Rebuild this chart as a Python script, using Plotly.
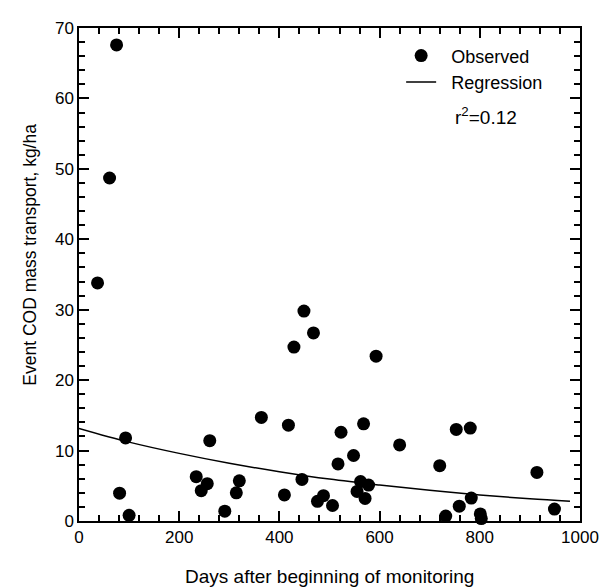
import plotly.graph_objects as go

# Observed event data (days after beginning of monitoring, COD mass transport kg/ha)
days = [37, 61, 75, 81, 93, 100, 234, 244, 256, 261, 291, 314, 320, 364, 410, 418,
        429, 445, 449, 468, 476, 488, 506, 517, 523, 548, 555, 562, 568, 571, 578,
        593, 640, 720, 732, 753, 759, 781, 783, 801, 803, 914, 949]
cod = [33.8, 48.7, 67.6, 3.95, 11.8, 0.8, 6.3, 4.3, 5.3, 11.4, 1.4, 4.0, 5.7, 14.7,
       3.7, 13.6, 24.7, 5.9, 29.8, 26.7, 2.8, 3.6, 2.2, 8.1, 12.6, 9.3, 4.2, 5.6,
       13.8, 3.2, 5.1, 23.4, 10.8, 7.85, 0.7, 13.0, 2.1, 13.2, 3.25, 1.0, 0.35, 6.9, 1.7]

# Regression curve, values
reg_days = [0, 100, 200, 300, 400, 500, 600, 700, 800, 900, 980]
reg_cod = [13.15, 11.2, 9.6, 8.2, 7.0, 5.95, 5.1, 4.35, 3.7, 3.15, 2.8]

x_ticks = [0, 200, 400, 600, 800, 1000]
y_ticks = [0, 10, 20, 30, 40, 50, 60, 70]

FONT = "Liberation Sans, Arial, Helvetica, sans-serif"
NB = "\u00a0\u00a0"

fig = go.Figure()
fig.add_trace(go.Scatter(
    x=days, y=cod, mode="markers", name=NB + "Observed",
    marker=dict(color="black", size=13, line=dict(width=0)),
    cliponaxis=False,
))
fig.add_trace(go.Scatter(
    x=reg_days, y=reg_cod, mode="lines", name=NB + "Regression",
    line=dict(color="black", width=1.5, shape="spline"),
))

axis_common = dict(
    showgrid=False, zeroline=False, showline=True, linecolor="black", linewidth=1.5,
    mirror="ticks", ticks="inside", ticklen=10, tickwidth=1.5, tickcolor="black",
    tickfont=dict(family=FONT, size=17, color="black"),
)

fig.update_xaxes(
    range=[0, 1000], tickvals=x_ticks, ticktext=[str(v) for v in x_ticks],
    minor=dict(dtick=40, ticks="inside", ticklen=6, tickwidth=1.5, tickcolor="black"),
    **axis_common,
)
fig.update_yaxes(
    range=[0, 70], tickvals=y_ticks, ticktext=[str(v) for v in y_ticks],
    minor=dict(dtick=2, ticks="inside", ticklen=6, tickwidth=1.5, tickcolor="black"),
    **axis_common,
)

fig.update_layout(
    width=604, height=580,
    margin=dict(l=71, r=32, t=11, b=67),
    paper_bgcolor="white", plot_bgcolor="white",
    font=dict(family=FONT, size=17, color="black"),
    showlegend=True,
    legend=dict(x=0.643, y=0.981, xanchor="left", yanchor="top",
                bgcolor="rgba(0,0,0,0)", borderwidth=0,
                font=dict(family=FONT, size=18, color="black"),
                tracegroupgap=0),
    annotations=[
        dict(text="Days after beginning of monitoring", xref="paper", yref="paper",
             x=0.5, y=-0.1116, xanchor="center", yanchor="middle", showarrow=False,
             font=dict(family=FONT, size=19, color="black")),
        dict(text="Event COD mass transport, kg/ha", xref="paper", yref="paper",
             x=-0.098, y=0.540, xanchor="center", yanchor="middle", textangle=-90,
             showarrow=False, font=dict(family=FONT, size=17.5, color="black")),
        dict(text="r<sup>2</sup>=0.12", xref="paper", yref="paper",
             x=0.746, y=0.822, xanchor="left", yanchor="middle", showarrow=False,
             font=dict(family=FONT, size=19, color="black")),
    ],
)

fig.write_html("out.html")
